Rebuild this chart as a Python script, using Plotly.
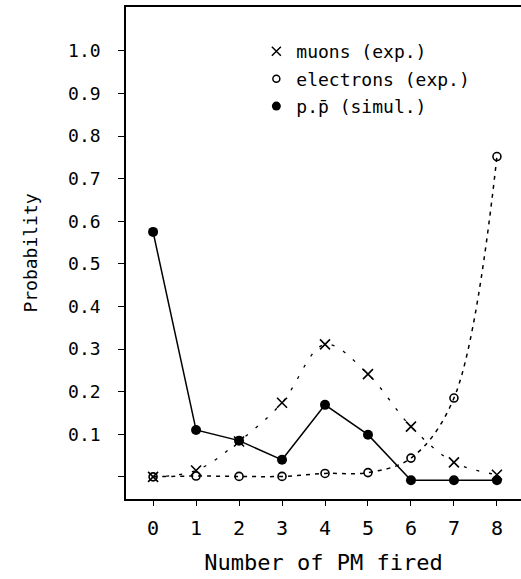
import plotly.graph_objects as go

n_pm = [0, 1, 2, 3, 4, 5, 6, 7, 8]
muons = [0.000, 0.015, 0.083, 0.174, 0.311, 0.241, 0.118, 0.034, 0.005]
electrons = [0.000, 0.002, 0.001, 0.001, 0.008, 0.010, 0.044, 0.185, 0.752]
ppbar = [0.575, 0.110, 0.085, 0.040, 0.169, 0.099, -0.008, -0.008, -0.008]

y_ticks = [0.0, 0.1, 0.2, 0.3, 0.4, 0.5, 0.6, 0.7, 0.8, 0.9, 1.0]
y_ticktext = ["", "0.1", "0.2", "0.3", "0.4", "0.5", "0.6", "0.7", "0.8", "0.9", "1.0"]
x_ticks = n_pm

legend_labels = ["muons (exp.)", "electrons (exp.)", "p.p\u0304 (simul.)"]

XR = [-0.63, 8.56]
YR = [-0.052, 1.103]
FONT = "DejaVu Sans"
MONO = "DejaVu Sans Mono"

fig = go.Figure()

# data traces
fig.add_trace(go.Scatter(
    x=n_pm, y=muons, mode="lines+markers", line_shape="spline",
    line=dict(color="black", width=1.3, dash="3px,10px"),
    marker=dict(symbol="x-thin", size=10, color="black",
                line=dict(color="black", width=1.6)),
    showlegend=False))
fig.add_trace(go.Scatter(
    x=n_pm, y=electrons, mode="lines+markers", line_shape="spline",
    line=dict(color="black", width=1.5, dash="4px,5px"),
    marker=dict(symbol="circle-open", size=8, color="black",
                line=dict(color="black", width=1.6)),
    showlegend=False))
fig.add_trace(go.Scatter(
    x=n_pm, y=ppbar, mode="lines+markers",
    line=dict(color="black", width=1.5),
    marker=dict(symbol="circle", size=10, color="black"),
    showlegend=False))

# legend entries
fig.add_trace(go.Scatter(x=[None], y=[None], mode="markers", name=legend_labels[0],
    legendgroup="a",
    marker=dict(symbol="x-thin", size=9, color="black",
                line=dict(color="black", width=1.5))))
fig.add_trace(go.Scatter(x=[None], y=[None], mode="markers", name=legend_labels[1],
    legendgroup="b",
    marker=dict(symbol="circle-open", size=7, color="black",
                line=dict(color="black", width=1.5))))
fig.add_trace(go.Scatter(x=[None], y=[None], mode="markers", name=legend_labels[2],
    legendgroup="c",
    marker=dict(symbol="circle", size=9, color="black")))

fig.update_layout(
    width=521, height=579,
    margin=dict(l=126, r=0, t=7, b=80),
    paper_bgcolor="white", plot_bgcolor="white",
    font=dict(family=FONT, color="black"),
    legend=dict(x=0.33, y=0.947, xanchor="left", yanchor="top",
                font=dict(family=MONO, size=18, color="black"),
                bgcolor="rgba(0,0,0,0)", tracegroupgap=1, itemwidth=30),
    xaxis=dict(range=XR, tickvals=x_ticks, ticks="outside", ticklen=5,
               tickwidth=1.3, tickcolor="black",
               showline=True, linecolor="black", linewidth=1.6, mirror=True,
               showgrid=False, zeroline=False,
               tickfont=dict(family=MONO, size=20),
               ticklabelstandoff=5,
               title=dict(text="Number of PM fired", font=dict(family=MONO, size=22),
                          standoff=16)),
    yaxis=dict(range=YR, tickvals=y_ticks, ticktext=y_ticktext, ticks="outside",
               ticklen=6, tickwidth=1.3, tickcolor="black",
               showline=True, linecolor="black", linewidth=1.6,
               showgrid=False, zeroline=False,
               tickfont=dict(family=MONO, size=18),
               ticklabelstandoff=14,
               title=dict(text="Probability", font=dict(family=MONO, size=18),
                          standoff=26)),
    xaxis2=dict(range=XR, overlaying="x", anchor="y", tickvals=x_ticks,
                ticks="inside", ticklen=5, tickwidth=1.3, tickcolor="black",
                showticklabels=False, showgrid=False, zeroline=False, showline=False),
    yaxis2=dict(range=YR, overlaying="y", anchor="x", tickvals=y_ticks,
                ticks="inside", ticklen=6, tickwidth=1.3, tickcolor="black",
                showticklabels=False, showgrid=False, zeroline=False, showline=False),
)

fig.write_html("out.html")
